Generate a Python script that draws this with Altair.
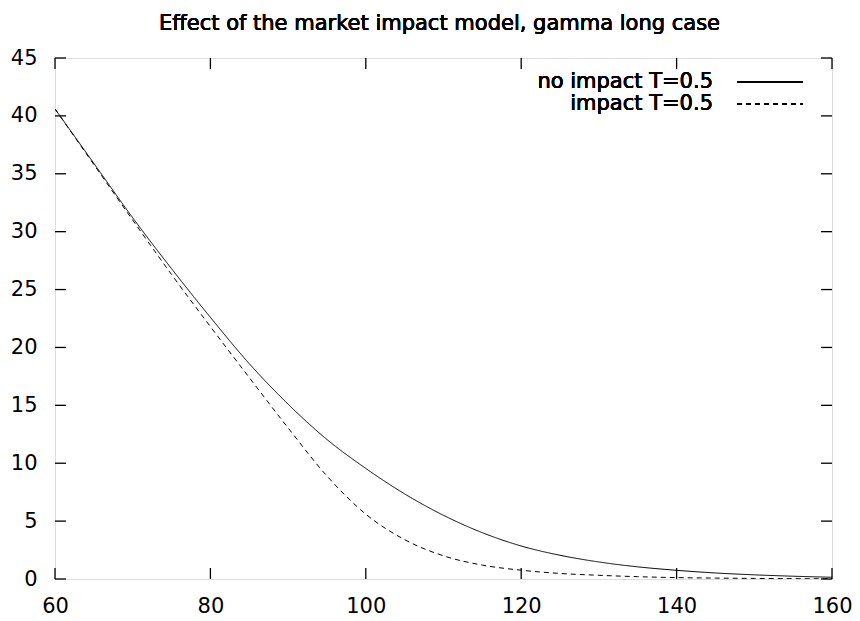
import altair as alt
import pandas as pd

# ---- data ----
x_vals = [60, 65, 70, 75, 80, 85, 90, 95, 100, 105, 110, 115, 120, 125, 130, 135, 140, 145, 150, 155, 160]
no_impact = [40.6, 35.9, 31.2, 26.8, 22.6, 18.6, 15.1, 12.05, 9.55, 7.35, 5.5, 4.0, 2.85, 2.05, 1.47, 1.05, 0.75, 0.52, 0.36, 0.24, 0.15]
impact = [40.6, 35.8, 31.0, 26.3, 21.8, 17.4, 13.05, 8.9, 5.6, 3.4, 2.0, 1.2, 0.76, 0.48, 0.32, 0.2, 0.12, 0.08, 0.05, 0.03, 0.02]
series_names = ["no impact T=0.5", "impact T=0.5"]
x_ticks = [60, 80, 100, 120, 140, 160]
y_ticks = [0, 5, 10, 15, 20, 25, 30, 35, 40, 45]
title_text = "Effect of the market impact model, gamma long case"

W, H = 777, 521
FONT = "DejaVu Sans"
FS = 21

rows = []
for name, ys in zip(series_names, [no_impact, impact]):
    for x, y in zip(x_vals, ys):
        rows.append({"x": x, "y": y, "series": name})
df = pd.DataFrame(rows)
xt = pd.DataFrame({"x": x_ticks})
yt = pd.DataFrame({"y": y_ticks})

xscale = alt.Scale(domain=[60, 160], nice=False, zero=False)
yscale = alt.Scale(domain=[0, 45], nice=False, zero=False)
xaxis = alt.Axis(values=x_ticks, ticks=False, domain=False, grid=False,
                 labelFont=FONT, labelFontSize=FS, labelColor="black",
                 labelPadding=16, labelFlush=False)
yaxis = alt.Axis(values=y_ticks, ticks=False, domain=False, grid=False,
                 labelFont=FONT, labelFontSize=FS, labelColor="black",
                 labelPadding=18)
X = alt.X("x:Q", scale=xscale, title="", axis=xaxis)
Y = alt.Y("y:Q", scale=yscale, title="", axis=yaxis)

lines = alt.Chart(df).mark_line(color="black", strokeWidth=1.0, interpolate="monotone", clip=True).encode(
    x=X, y=Y,
    detail="series:N",
    strokeDash=alt.StrokeDash("series:N", scale=alt.Scale(domain=series_names, range=[[1, 0], [5, 4]]), legend=None),
)

tick_len = 11
left_ticks = alt.Chart(yt).mark_rule(color="black", strokeWidth=1.3).encode(
    y=Y, x=alt.value(0), x2=alt.value(tick_len))
right_ticks = alt.Chart(yt).mark_rule(color="black", strokeWidth=1.3).encode(
    y=Y, x=alt.value(W - tick_len), x2=alt.value(W))
bottom_ticks = alt.Chart(xt).mark_rule(color="black", strokeWidth=1.3).encode(
    x=X, y=alt.value(H - tick_len), y2=alt.value(H))
top_ticks = alt.Chart(xt).mark_rule(color="black", strokeWidth=1.3).encode(
    x=X, y=alt.value(0), y2=alt.value(tick_len))

leg_text_x = 658
leg_line_x1, leg_line_x2 = 682, 748
leg_y = [24, 46]

title_mark = alt.Chart(xt).mark_text(align="center", baseline="alphabetic", font=FONT, fontSize=FS, color="black").encode(
    x=alt.value(W / 2 - 4), y=alt.value(-28), text=alt.value(title_text))
leg_t1 = alt.Chart(xt).mark_text(align="right", baseline="middle", font=FONT, fontSize=FS, color="black").encode(
    x=alt.value(leg_text_x), y=alt.value(leg_y[0]), text=alt.value(series_names[0]))
leg_t2 = alt.Chart(xt).mark_text(align="right", baseline="middle", font=FONT, fontSize=FS, color="black").encode(
    x=alt.value(leg_text_x), y=alt.value(leg_y[1]), text=alt.value(series_names[1]))
leg_l1 = alt.Chart(xt).mark_rule(color="black", strokeWidth=1.1).encode(
    x=alt.value(leg_line_x1), x2=alt.value(leg_line_x2), y=alt.value(leg_y[0]))
leg_l2 = alt.Chart(xt).mark_rule(color="black", strokeWidth=1.1, strokeDash=[5, 4]).encode(
    x=alt.value(leg_line_x1), x2=alt.value(leg_line_x2), y=alt.value(leg_y[1]))

chart = alt.layer(
    lines, left_ticks, right_ticks, bottom_ticks, top_ticks, title_mark, leg_t1, leg_t2, leg_l1, leg_l2
).properties(
    width=W, height=H,
    autosize=alt.AutoSizeParams(type="none"),
    padding={"left": 47, "top": 50, "right": 20, "bottom": 40},
).configure_view(
    stroke="black", strokeWidth=1.6
).configure(background="white")

chart.save("out.html", embed_options={"renderer": "svg", "actions": False})
